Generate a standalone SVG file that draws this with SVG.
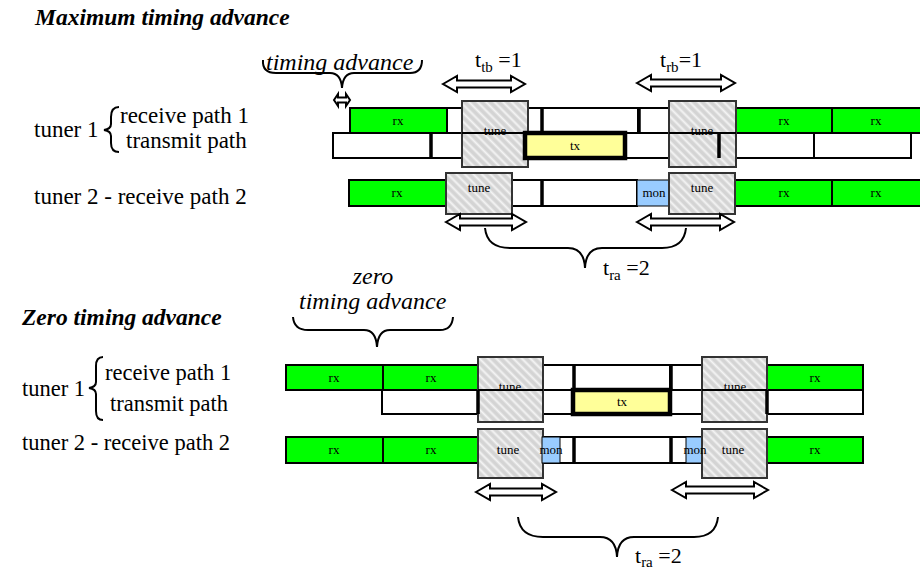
<svg xmlns="http://www.w3.org/2000/svg" width="920" height="571" viewBox="0 0 920 571">
<defs>
<pattern id="hatch" width="6" height="6" patternUnits="userSpaceOnUse" patternTransform="rotate(-45)">
<rect width="6" height="6" fill="#d4d4d4"/>
<line x1="1.5" y1="0" x2="1.5" y2="6" stroke="#f4f4f4" stroke-width="2"/>
</pattern>
</defs>
<style>
.c{fill:#fff;stroke:#000;stroke-width:2}
.rx{fill:#00ff00;stroke:#000;stroke-width:2}
.mon{fill:#99ccff;stroke:#000;stroke-width:1}
.tx{fill:#ffff99;stroke:#000;stroke-width:4.5}
.tune{fill:url(#hatch);stroke:#333;stroke-width:2}
.sep{stroke:#000;stroke-width:3.5}
.ln{stroke:#000;stroke-width:2}
.cl{font-family:"Liberation Serif",serif;font-size:13px;text-anchor:middle;fill:#000}
.lb{font-family:"Liberation Serif",serif;font-size:23px;fill:#000}
.lb2{font-family:"Liberation Serif",serif;font-size:22.5px;fill:#000}
.ti{font-family:"Liberation Serif",serif;font-size:23.5px;font-weight:bold;font-style:italic;fill:#000}
.it{font-family:"Liberation Serif",serif;font-size:24px;font-style:italic;fill:#000}
.tl{font-family:"Liberation Serif",serif;font-size:22px;fill:#000}
.arr{fill:#fff;stroke:#000;stroke-width:2;stroke-linejoin:miter}
.br{fill:none;stroke:#000;stroke-width:2}
</style>

<g id="labels">
<text class="ti" x="35" y="25">Maximum timing advance</text>
<text class="lb" x="34" y="137">tuner 1</text>
<text class="lb" x="120" y="123">receive path 1</text>
<text class="lb" x="126" y="148">transmit path</text>
<text class="lb" x="34" y="204">tuner 2 - receive path 2</text>
<path class="br" d="M119,107 Q111,107 111,117 L111,124 Q111,129 104,130 Q111,131 111,136 L111,143 Q111,152 119,152"/>
<text class="ti" x="22" y="325">Zero timing advance</text>
<text class="lb2" x="22" y="396">tuner 1</text>
<text class="lb2" x="105" y="380">receive path 1</text>
<text class="lb2" x="110" y="411">transmit path</text>
<text class="lb2" x="22" y="450">tuner 2 - receive path 2</text>
<path class="br" d="M103,357 Q96,357 96,366 L96,382 Q96,387 89,388 Q96,389 96,394 L96,411 Q96,420 103,420"/>
</g>

<g id="top-rows">
<rect class="rx" x="350" y="108" width="97" height="25"/><text class="cl" x="398" y="125">rx</text>
<rect class="c" x="447" y="108" width="95" height="25"/>
<rect class="c" x="542" y="108" width="96" height="25"/>
<rect class="c" x="638" y="108" width="98" height="25"/>
<rect class="rx" x="736" y="108" width="96" height="25"/><text class="cl" x="784" y="125">rx</text>
<rect class="rx" x="832" y="108" width="96" height="25"/><text class="cl" x="876" y="125">rx</text>
<line class="sep" x1="542" y1="108" x2="542" y2="133"/>
<line class="sep" x1="639" y1="108" x2="639" y2="133"/>

<rect class="c" x="333" y="133" width="98" height="25"/>
<rect class="c" x="431" y="133" width="94" height="25"/>
<rect class="c" x="625" y="133" width="94" height="25"/>
<rect class="c" x="719" y="133" width="95" height="25"/>
<rect class="c" x="814" y="133" width="97" height="25"/>
<line class="sep" x1="431" y1="133" x2="431" y2="158"/>
<line class="sep" x1="719" y1="133" x2="719" y2="158"/>
</g>

<g id="top-tune">
<rect class="tune" x="462" y="101" width="66" height="66"/>
<text class="cl" x="495" y="135">tune</text>
<rect class="tune" x="669" y="101" width="67" height="66"/>
<text class="cl" x="702" y="135">tune</text>
<line class="ln" x1="462" y1="133" x2="528" y2="133"/>
<line class="ln" x1="669" y1="133" x2="736" y2="133"/>
<line class="sep" x1="719" y1="133" x2="719" y2="158"/>
</g>

<g id="top-tx">
<rect class="tx" x="525" y="133" width="100" height="25"/>
<text class="cl" x="575" y="150">tx</text>
</g>

<g id="top-row3">
<rect class="rx" x="349" y="180" width="98" height="26"/><text class="cl" x="397" y="197">rx</text>
<rect class="c" x="447" y="180" width="95" height="26"/>
<rect class="c" x="542" y="180" width="95" height="26"/>
<rect class="mon" x="637" y="180" width="34" height="26"/><text class="cl" x="654" y="197">mon</text>
<rect class="c" x="671" y="180" width="64" height="26"/>
<rect class="rx" x="735" y="180" width="97" height="26"/><text class="cl" x="784" y="197">rx</text>
<rect class="rx" x="832" y="180" width="96" height="26"/><text class="cl" x="876" y="197">rx</text>
<line class="sep" x1="542" y1="180" x2="542" y2="206"/>
<rect class="tune" x="446" y="173" width="66" height="41"/><text class="cl" x="479" y="192">tune</text>
<rect class="tune" x="669" y="173" width="66" height="41"/><text class="cl" x="702" y="192">tune</text>
</g>

<g id="bottom-rows">
<rect class="rx" x="286" y="365" width="97" height="25"/><text class="cl" x="334" y="382">rx</text>
<rect class="rx" x="383" y="365" width="96" height="25"/><text class="cl" x="431" y="382">rx</text>
<rect class="c" x="479" y="365" width="95" height="25"/>
<rect class="c" x="574" y="365" width="96" height="25"/>
<rect class="c" x="670" y="365" width="97" height="25"/>
<rect class="rx" x="767" y="365" width="96" height="25"/><text class="cl" x="815" y="382">rx</text>
<line class="sep" x1="574" y1="365" x2="574" y2="390"/>
<line class="sep" x1="671" y1="365" x2="671" y2="390"/>

<rect class="c" x="382" y="390" width="96" height="24"/>
<rect class="c" x="478" y="390" width="95" height="24"/>
<rect class="c" x="670" y="390" width="97" height="24"/>
<rect class="c" x="767" y="390" width="96" height="24"/>
</g>

<g id="bottom-tune">
<rect class="tune" x="478" y="357" width="65" height="65"/>
<text class="cl" x="510" y="391">tune</text>
<rect class="tune" x="702" y="357" width="65" height="65"/>
<text class="cl" x="735" y="391">tune</text>
<line class="ln" x1="478" y1="390" x2="543" y2="390"/>
<line class="ln" x1="702" y1="390" x2="767" y2="390"/>
<line class="sep" x1="478" y1="390" x2="478" y2="414"/>
<line class="sep" x1="767" y1="390" x2="767" y2="414"/>
</g>

<g id="bottom-tx">
<rect class="tx" x="573" y="390" width="97" height="24"/>
<text class="cl" x="622" y="406">tx</text>
</g>

<g id="bottom-row3">
<rect class="rx" x="286" y="437" width="97" height="26"/><text class="cl" x="334" y="454">rx</text>
<rect class="rx" x="383" y="437" width="96" height="26"/><text class="cl" x="431" y="454">rx</text>
<rect class="c" x="479" y="437" width="95" height="26"/>
<rect class="c" x="574" y="437" width="97" height="26"/>
<rect class="c" x="671" y="437" width="96" height="26"/>
<rect class="rx" x="767" y="437" width="96" height="26"/><text class="cl" x="815" y="454">rx</text>
<line class="sep" x1="574" y1="437" x2="574" y2="463"/>
<line class="sep" x1="671" y1="437" x2="671" y2="463"/>
<rect class="tune" x="478" y="429" width="65" height="49"/>
<rect class="mon" x="542" y="437" width="18" height="26"/>
<text class="cl" x="508" y="454">tune</text>
<text class="cl" x="551" y="454">mon</text>
<rect class="mon" x="686" y="437" width="17" height="26"/>
<rect class="tune" x="702" y="429" width="65" height="49"/>
<text class="cl" x="695" y="454">mon</text>
<text class="cl" x="733" y="454">tune</text>
</g>

<g id="connectors">
<path class="arr" d="M443,84 L457,76 L457,80.5 L511,80.5 L511,76 L525,84 L511,92 L511,87.5 L457,87.5 L457,92 Z"/>
<path class="arr" d="M637,83 L651,75 L651,79.5 L721,79.5 L721,75 L735,83 L721,91 L721,86.5 L651,86.5 L651,91 Z"/>
<path class="arr" d="M334,100 L338,94 L338,97.5 L346,97.5 L346,94 L350,100 L346,106 L346,102.5 L338,102.5 L338,106 Z"/>
<path class="arr" d="M446,222 L460,214 L460,218.5 L512,218.5 L512,214 L526,222 L512,230 L512,225.5 L460,225.5 L460,230 Z"/>
<path class="arr" d="M637,222 L651,214 L651,218.5 L720,218.5 L720,214 L734,222 L720,230 L720,225.5 L651,225.5 L651,230 Z"/>
<path class="arr" d="M476,492 L490,484 L490,488.5 L542,488.5 L542,484 L556,492 L542,500 L542,495.5 L490,495.5 L490,500 Z"/>
<path class="arr" d="M672,490 L686,482 L686,486.5 L754,486.5 L754,482 L768,490 L754,498 L754,493.5 L686,493.5 L686,498 Z"/>
<path class="br" d="M263,60 Q262,73 276,73 L330,73 Q341,73 342,88 Q343,73 354,73 L410,73 Q422,73 422,60"/>
<path class="br" d="M293,317 Q294,330 308,330 L364,330 Q376,330 377,347 Q378,330 390,330 L440,330 Q452,330 453,317"/>
<path class="br" d="M485,228 Q487,248 510,248 L568,248 Q584,248 585,268 Q586,248 602,248 L662,248 Q684,248 686,228"/>
<path class="br" d="M518,517 Q520,537 543,537 L600,537 Q616,537 617,557 Q618,537 634,537 L694,537 Q716,537 718,517"/>
</g>

<g id="annotations">
<text class="it" x="266" y="70">timing advance</text>
<text class="it" x="373" y="284" text-anchor="middle">zero</text>
<text class="it" x="299" y="309">timing advance</text>
<text class="tl" x="475" y="67">t<tspan font-size="15" dy="5">tb</tspan><tspan dy="-5"> =1</tspan></text>
<text class="tl" x="660" y="67">t<tspan font-size="15" dy="5">rb</tspan><tspan dy="-5">=1</tspan></text>
<text class="tl" x="603" y="275">t<tspan font-size="15" dy="5">ra</tspan><tspan dy="-5"> =2</tspan></text>
<text class="tl" x="635" y="563">t<tspan font-size="15" dy="4">ra</tspan><tspan dy="-4"> =2</tspan></text>
</g>
</svg>
